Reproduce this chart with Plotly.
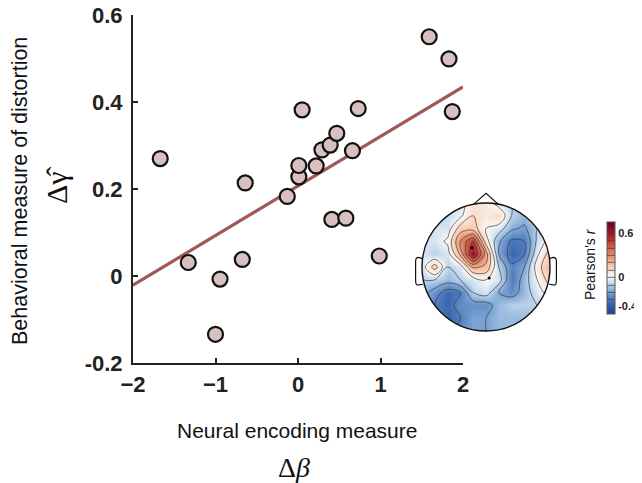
import numpy as np
import plotly.graph_objects as go

# ---------------- data ----------------
neural_beta = [-1.67, -1.33, -1.00, -0.945, -0.675, -0.64, -0.13, 0.01, 0.01, 0.05, 0.22,
               0.29, 0.39, 0.41, 0.47, 0.58, 0.66, 0.73, 0.985, 1.59, 1.83, 1.87]
behav_gamma = [0.270, 0.031, -0.134, -0.007, 0.038, 0.214, 0.183, 0.228, 0.254, 0.382, 0.253,
               0.290, 0.301, 0.130, 0.328, 0.133, 0.288, 0.385, 0.046, 0.550, 0.499, 0.378]
fit_x = [-2.0, 2.0]
fit_y = [-0.021, 0.435]

x_ticks = [-2, -1, 0, 1, 2]
y_ticks = [-0.2, 0, 0.2, 0.4, 0.6]
y_ticklabels = ["-0.2", "0", "0.2", "0.4", "0.6"]

# topographic map (coarse grid of Pearson's r, rows from top to bottom)
topo_x = [-1.0, -0.8, -0.6, -0.4, -0.2, 0.0, 0.2, 0.4, 0.6, 0.8, 1.0]
topo_y = [1.0, 0.8, 0.6, 0.4, 0.2, 0.0, -0.2, -0.4, -0.6, -0.8, -1.0]
topo_z = [
    [-0.10, -0.10, -0.10, -0.05, 0.08, 0.05, -0.05, -0.10, -0.10, -0.10, -0.10],
    [-0.10, -0.10, -0.08, -0.02, 0.10, 0.05, 0.10, -0.10, -0.15, -0.10, -0.10],
    [-0.10, -0.05, -0.05, 0.15, 0.15, 0.00, -0.05, -0.18, -0.22, -0.10, -0.05],
    [-0.05, -0.05, 0.02, 0.30, 0.50, 0.05, -0.18, -0.32, -0.30, -0.08, 0.05],
    [-0.05, -0.10, -0.05, 0.22, 0.62, 0.25, -0.20, -0.35, -0.30, -0.02, 0.15],
    [-0.05, 0.15, -0.10, -0.05, 0.22, 0.18, -0.10, -0.28, -0.20, 0.05, 0.20],
    [-0.10, -0.10, -0.15, -0.10, -0.05, 0.00, -0.05, -0.30, -0.15, 0.00, 0.15],
    [-0.15, -0.25, -0.35, -0.30, -0.10, -0.05, -0.20, -0.25, -0.15, -0.05, 0.05],
    [-0.20, -0.30, -0.35, -0.25, -0.25, -0.25, -0.15, -0.10, -0.10, -0.10, -0.05],
    [-0.20, -0.25, -0.35, -0.30, -0.20, -0.20, -0.15, -0.15, -0.15, -0.10, -0.10],
    [-0.20, -0.20, -0.30, -0.25, -0.20, -0.20, -0.15, -0.15, -0.15, -0.10, -0.10],
]
marked_elec_x = [-0.22, 0.05]
marked_elec_y = [0.30, -0.17]
cbar_ticks = [-0.4, 0, 0.6]
cbar_ticklabels = ["-0.4", "0", "0.6"]

# ---------------- layout helpers ----------------
W, H = 642, 483
OFF = 8  # page body margin offset of the figure div
def px(x):
    return (x - OFF) / W
def py(y):
    return 1 - (y - OFF) / H

FONT = "Liberation Sans, Arial, Helvetica, sans-serif"
SERIF = "Liberation Serif, Times New Roman, serif"

fig = go.Figure()

fig.add_trace(go.Scatter(x=fit_x, y=fit_y, mode="lines",
                         line=dict(color="#a25656", width=3.2),
                         showlegend=False, hoverinfo="skip"))
fig.add_trace(go.Scatter(x=neural_beta, y=behav_gamma, mode="markers",
                         marker=dict(size=15, color="#d8c0c0",
                                     line=dict(color="#111111", width=2.2)),
                         showlegend=False))

colorscale = [
    [0.00, "#21408e"],
    [0.12, "#3a66b0"],
    [0.24, "#7aa3d3"],
    [0.34, "#c8dcef"],
    [0.40, "#f7f7f7"],
    [0.48, "#fbdcc8"],
    [0.60, "#f0a07e"],
    [0.72, "#d2604b"],
    [0.86, "#a8192c"],
    [1.00, "#67001f"],
]

fig.add_trace(go.Contour(
    x=topo_x, y=topo_y, z=topo_z,
    xaxis="x2", yaxis="y2",
    colorscale=colorscale, zmin=-0.5, zmax=0.75,
    contours=dict(coloring="heatmap", start=-0.3, end=0.6, size=0.1, showlines=True),
    line=dict(color="#3a3a3a", width=0.7, smoothing=1.0),
    colorbar=dict(
        x=px(607), xanchor="left", y=py(268), yanchor="middle",
        len=92 / H, lenmode="fraction", thickness=8, thicknessmode="pixels",
        outlinecolor="#555555", outlinewidth=1,
        tickvals=cbar_ticks, ticktext=cbar_ticklabels, ticks="",
        tickfont=dict(family=FONT, size=11, color="#222222", weight="bold"),
        ticklabeloverflow="allow",
        xpad=0, ypad=0,
    ),
    showscale=True, hoverinfo="skip",
))
fig.add_trace(go.Scatter(x=marked_elec_x, y=marked_elec_y, xaxis="x2", yaxis="y2",
                         mode="markers", marker=dict(size=3, color="black"),
                         showlegend=False, hoverinfo="skip"))

# mask outside head circle (square minus circle)
R = 1.0
theta = np.linspace(0, 2 * np.pi, 121)
circ = " ".join(f"L {R*np.cos(t):.4f},{R*np.sin(t):.4f}" for t in theta[1:])
mask_path = (f"M -1.25,-1.25 L 1.25,-1.25 L 1.25,1.25 L -1.25,1.25 Z "
             f"M {R:.4f},0 {circ} Z")

shapes = [
    dict(type="path", path=mask_path, xref="x2", yref="y2", fillcolor="white",
         fillrule="evenodd", line=dict(width=0), layer="above"),
    dict(type="circle", xref="x2", yref="y2", x0=-1, x1=1, y0=-1, y1=1,
         line=dict(color="#111111", width=1.4), layer="above"),
    # nose
    dict(type="path", xref="x2", yref="y2", path="M -0.19,0.982 L 0,1.15 L 0.19,0.982",
         line=dict(color="#111111", width=1.2), layer="above"),
    # ears
    dict(type="path", xref="x2", yref="y2",
         path="M -0.99,0.13 L -1.05,0.15 Q -1.10,0.15 -1.10,0.09 L -1.10,-0.22 "
              "Q -1.10,-0.29 -1.05,-0.28 L -0.985,-0.27",
         line=dict(color="#111111", width=1.2), layer="above"),
    dict(type="path", xref="x2", yref="y2",
         path="M 0.99,0.13 L 1.05,0.15 Q 1.10,0.15 1.10,0.09 L 1.10,-0.22 "
              "Q 1.10,-0.29 1.05,-0.28 L 0.985,-0.27",
         line=dict(color="#111111", width=1.2), layer="above"),
]

annotations = [
    dict(text="Behavioral measure of distortion", x=px(20), y=py(191), xref="paper", yref="paper",
         textangle=-90, showarrow=False, xanchor="center", yanchor="middle",
         font=dict(family=FONT, size=21.5, color="#111111")),
    dict(text="Δγ\u0302", x=px(56), y=py(185), xref="paper", yref="paper",
         textangle=-90, showarrow=False, xanchor="center", yanchor="middle",
         font=dict(family=SERIF, size=30, color="#111111")),
    dict(text="Neural encoding measure", x=px(297), y=py(430), xref="paper", yref="paper",
         showarrow=False, xanchor="center", yanchor="middle",
         font=dict(family=FONT, size=21, color="#111111")),
    dict(text="Δ<i>β</i>", x=px(294), y=py(467), xref="paper", yref="paper",
         showarrow=False, xanchor="center", yanchor="middle",
         font=dict(family=SERIF, size=28, color="#111111")),
    dict(text="Pearson's <i>r</i>", x=px(590), y=py(264), xref="paper", yref="paper",
         textangle=-90, showarrow=False, xanchor="center", yanchor="middle",
         font=dict(family=FONT, size=14, color="#111111")),
]

fig.update_layout(
    width=W, height=H,
    margin=dict(l=0, r=0, t=0, b=0, autoexpand=False),
    paper_bgcolor="white", plot_bgcolor="rgba(0,0,0,0)",
    xaxis=dict(domain=[px(133), px(463)], range=[-2, 2], tickvals=x_ticks,
               ticks="inside", ticklen=5, tickwidth=1.6, tickcolor="#222222",
               showline=True, linecolor="#222222", linewidth=2, showgrid=False,
               zeroline=False, ticklabelstandoff=1, automargin=False,
               ticklabeloverflow="allow",
               tickfont=dict(family=FONT, size=22, color="#222222", weight="bold")),
    yaxis=dict(domain=[py(363), py(15)], range=[-0.2, 0.6], tickvals=y_ticks,
               ticktext=y_ticklabels, automargin=False,
               ticks="inside", ticklen=5, tickwidth=1.6, tickcolor="#222222",
               showline=True, linecolor="#222222", linewidth=2, showgrid=False,
               zeroline=False, ticklabelstandoff=4, ticklabeloverflow="allow",
               tickfont=dict(family=FONT, size=22, color="#222222", weight="bold")),
    xaxis2=dict(domain=[px(409.2), px(562.8)], range=[-1.2, 1.2], visible=False,
                anchor="y2", automargin=False),
    yaxis2=dict(domain=[py(343.8), py(190.2)], range=[-1.2, 1.2], visible=False,
                anchor="x2", automargin=False),
    shapes=shapes,
    annotations=annotations,
    showlegend=False,
)

fig.write_html("out.html")
